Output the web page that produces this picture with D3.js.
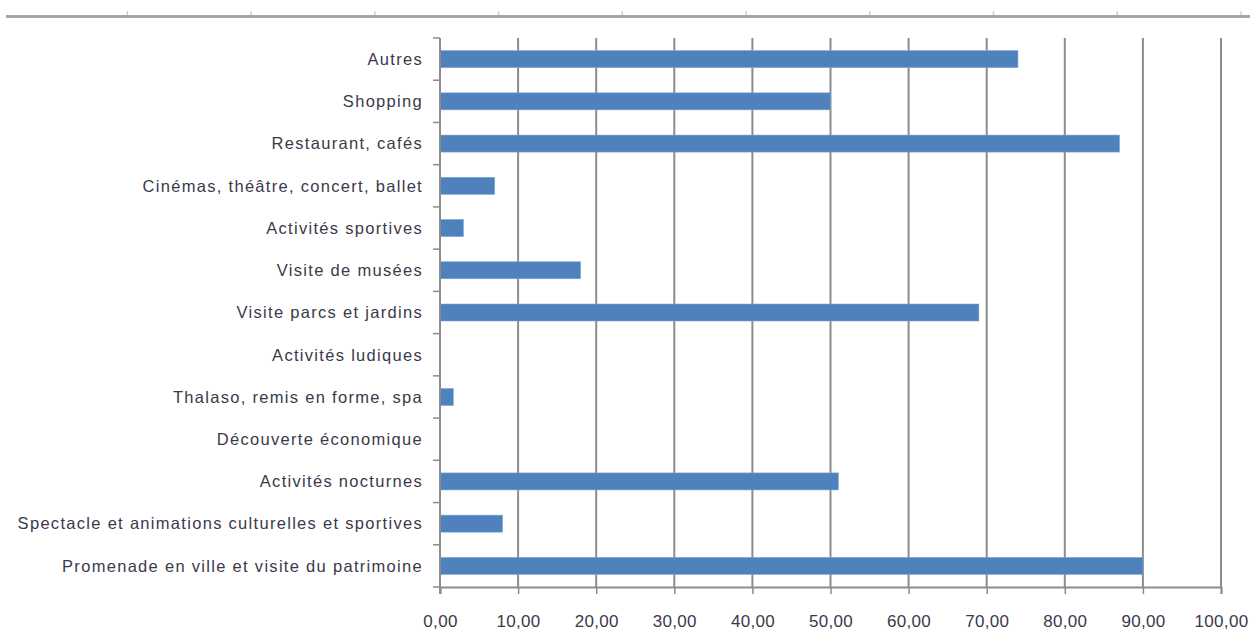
<!DOCTYPE html>
<html><head><meta charset="utf-8">
<script src="https://cdn.jsdelivr.net/npm/d3@7"></script>
<style>body{margin:0;background:#fff;}svg{display:block;font-family:"Liberation Sans",Arial,sans-serif;}</style>
</head><body>
<svg id="c" width="1250" height="630"></svg>
<script>
const categories = ["Autres","Shopping","Restaurant, cafés","Cinémas, théâtre, concert, ballet","Activités sportives","Visite de musées","Visite parcs et jardins","Activités ludiques","Thalaso, remis en forme, spa","Découverte économique","Activités nocturnes","Spectacle et animations culturelles et sportives","Promenade en ville et visite du patrimoine"];
const values = [74, 50, 87, 7, 3, 18, 69, 0, 1.7, 0, 51, 8, 90];
const xTicks = [0,10,20,30,40,50,60,70,80,90,100];
const topTicks = [1,2,3,4,5,6,7,8,9,10];

const svg = d3.select("#c");
const L = 440, R = 1221, T = 38, B = 587;
const x = d3.scaleLinear().domain([0,100]).range([L,R]);
const yb = d3.scaleBand().domain(categories).range([T,B]);

// top remnant axis
const xt = d3.scaleLinear().domain([0,10]).range([3.6,1241]);
const gTop = svg.append("g").attr("transform","translate(0,16)");
gTop.append("line").attr("x1",6).attr("x2",1250).attr("y1",0.5).attr("y2",0.5).attr("stroke","#a6a6a6").attr("stroke-width",3);
gTop.selectAll(".tk").data(topTicks).join("line").attr("class","tk")
  .attr("x1",d=>xt(d)).attr("x2",d=>xt(d)).attr("y1",-5).attr("y2",-1).attr("stroke","#c9cde0").attr("stroke-width",1.5);

// gridlines
svg.append("g").selectAll("line").data(xTicks.slice(1)).join("line")
  .attr("x1",d=>x(d)).attr("x2",d=>x(d)).attr("y1",T).attr("y2",B)
  .attr("stroke","#8c8c8c").attr("stroke-width",2);

// bars
svg.append("g").selectAll("rect").data(values).join("rect")
  .attr("x",x(0)).attr("y",(d,i)=>yb(categories[i])+yb.bandwidth()/2-8.5)
  .attr("width",d=>x(d)-x(0)).attr("height",17)
  .attr("fill","#4f81bd").attr("stroke","#7da3d6").attr("stroke-width",0.6);

// x axis
const gx = svg.append("g").attr("transform",`translate(0,${B})`)
  .call(d3.axisBottom(x).tickValues(xTicks).tickSize(7).tickFormat(d=>d3.format(".2f")(d).replace(".",",")));
gx.select(".domain").attr("stroke","#8c8c8c").attr("stroke-width",2);
gx.selectAll(".tick line").attr("stroke","#8c8c8c").attr("stroke-width",1.5);
gx.selectAll(".tick text").attr("dy",0).attr("y",40).attr("font-size",17).attr("fill","#3a3a4a")
  .attr("letter-spacing","0.3px").attr("font-family","'Liberation Sans',sans-serif");

// y axis
const gy = svg.append("g").attr("transform",`translate(${L},0)`);
gy.append("line").attr("x1",0).attr("x2",0).attr("y1",T).attr("y2",B+7).attr("stroke","#8c8c8c").attr("stroke-width",2);
const bounds = categories.map(c=>yb(c)).concat([B]);
gy.selectAll(".bt").data(bounds).join("line").attr("class","bt")
  .attr("x1",-7).attr("x2",0).attr("y1",d=>d).attr("y2",d=>d).attr("stroke","#8c8c8c").attr("stroke-width",1.5);
gy.selectAll("text").data(categories).join("text")
  .attr("x",-17).attr("y",d=>yb(d)+yb.bandwidth()/2).attr("dy","0.35em")
  .attr("text-anchor","end").attr("font-size",16.5).attr("fill","#3a3a4a")
  .attr("letter-spacing","1.3px")
  .attr("font-family","'Liberation Sans',sans-serif")
  .text(d=>d);
</script>
</body></html>
